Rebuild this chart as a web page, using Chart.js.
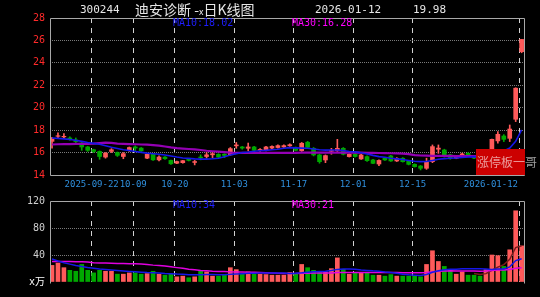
<!DOCTYPE html>
<html>
<head>
<meta charset="utf-8">
<script src="https://cdn.jsdelivr.net/npm/chart.js@4"></script>
<style>
  html, body { margin: 0; padding: 0; background: #000; }
  #wrap { position: relative; width: 540px; height: 297px; overflow: hidden; background: #000; }
  canvas { position: absolute; left: 0; }
  #kline { top: 0; }
  #vol { top: 190px; }
  .txt { position: absolute; white-space: nowrap; line-height: 1; }
  .mono { font-family: "DejaVu Sans Mono", monospace; }
  .cjk { font-family: "Noto Sans CJK SC", sans-serif; }
  #stamp { position: absolute; left: 476px; top: 149px; width: 49px; height: 26px; background: #cc0000; }
</style>
</head>
<body>
<div id="wrap">
  <canvas id="kline" width="540" height="190"></canvas>
  <canvas id="vol" width="540" height="107"></canvas>

  <div class="txt mono" style="left:80px; top:4px; font-size:11px; color:#e6e6e6;">300244</div>
  <div class="txt cjk" style="left:135px; top:2px; font-size:14px; color:#e6e6e6;">迪安诊断 -<span style="font-size:9px">x</span>日K线图</div>
  <div class="txt mono" style="left:315px; top:4px; font-size:11px; color:#e6e6e6;">2026-01-12</div>
  <div class="txt mono" style="left:413px; top:4px; font-size:11px; color:#e6e6e6;">19.98</div>

  <div class="txt mono" style="left:173px; top:18px; font-size:10px; color:#1e1eff;">MA10:18.02</div>
  <div class="txt mono" style="left:292px; top:18px; font-size:10px; color:#ff00ff;">MA30:16.28</div>
  <div class="txt mono" style="left:173px; top:200px; font-size:10px; color:#1e1eff;">MA10:34</div>
  <div class="txt mono" style="left:292px; top:200px; font-size:10px; color:#ff00ff;">MA30:21</div>

  <div id="stamp"></div>
  <div class="txt cjk" style="left:477px; top:156px; font-size:12px; color:rgba(255,255,255,0.6);">涨停板一哥</div>
</div>

<script>
// daily K-line, 80 sessions, 2025-09-11 .. 2026-01-12

const dateTicks  = [7, 14, 21, 31, 41, 51, 61, 79];
const dateLabels = ["2025-09-22", "10-09", "10-20", "11-03", "11-17", "12-01", "12-15", "2026-01-12"];

const opens = [
  17.00, 17.45, 17.40, 17.30, 17.12, 16.85, 16.50, 16.25, 16.10, 15.60,
  16.10, 16.00, 15.65, 16.20, 16.50, 16.40, 15.50, 15.85, 15.35, 15.60,
  15.30, 15.05, 15.10, 15.40, 15.12, 15.60, 15.65, 15.80, 15.85, 15.85,
  15.80, 16.60, 16.50, 16.38, 16.50, 16.18, 16.20, 16.40, 16.45, 16.50,
  16.60, 16.45, 16.17, 16.92, 16.38, 15.79, 15.34, 16.12, 16.17, 16.38,
  15.64, 15.85, 15.43, 15.64, 15.34, 14.98, 15.50, 15.70, 15.25, 15.49,
  15.25, 14.95, 14.80, 14.60, 15.19, 16.30, 16.23, 15.80, 15.49, 15.64,
  15.93, 15.70, 15.50, 15.40, 15.75, 17.04, 17.48, 17.27, 18.97, 25.00
];
const highs = [
  17.35, 17.75, 17.70, 17.40, 17.30, 16.90, 16.55, 16.30, 16.15, 16.00,
  16.35, 16.05, 16.00, 16.50, 16.60, 16.45, 15.90, 15.90, 15.70, 15.65,
  15.32, 15.25, 15.30, 15.45, 15.30, 15.80, 16.00, 16.08, 15.90, 15.90,
  16.45, 16.90, 16.55, 16.85, 16.55, 16.35, 16.55, 16.60, 16.68, 16.70,
  16.78, 16.50, 16.90, 17.00, 16.45, 15.85, 15.79, 16.38, 17.18, 16.45,
  15.90, 15.90, 15.85, 15.70, 15.40, 15.35, 15.55, 15.75, 15.55, 15.55,
  15.30, 15.00, 14.85, 15.50, 16.68, 16.68, 16.30, 15.85, 15.75, 15.95,
  16.00, 15.75, 15.55, 15.80, 17.20, 17.87, 17.60, 18.46, 21.78, 26.09
];
const lows = [
  16.40, 17.30, 17.25, 17.10, 16.90, 16.20, 16.10, 16.00, 15.40, 15.50,
  16.00, 15.65, 15.45, 16.10, 16.15, 16.10, 15.45, 15.30, 15.25, 15.40,
  14.95, 15.00, 15.05, 15.25, 14.90, 15.35, 15.50, 15.55, 15.50, 15.55,
  15.75, 16.38, 16.30, 16.15, 16.10, 16.10, 16.15, 16.35, 16.40, 16.45,
  16.55, 16.15, 16.10, 16.40, 15.70, 15.05, 15.10, 15.85, 16.10, 15.79,
  15.60, 15.60, 15.40, 15.20, 15.00, 14.83, 15.30, 15.20, 15.20, 15.15,
  14.90, 14.70, 14.45, 14.50, 15.10, 15.93, 15.60, 15.40, 15.45, 15.60,
  15.65, 15.45, 15.35, 15.35, 15.70, 16.83, 16.98, 16.98, 18.76, 24.90
];
const closes = [
  17.25, 17.50, 17.45, 17.20, 16.98, 16.50, 16.20, 16.10, 15.65, 15.95,
  16.25, 15.75, 15.90, 16.45, 16.40, 16.15, 15.85, 15.35, 15.60, 15.45,
  15.00, 15.20, 15.28, 15.30, 15.20, 15.55, 15.80, 15.90, 15.60, 15.75,
  16.35, 16.68, 16.40, 16.50, 16.20, 16.28, 16.50, 16.55, 16.62, 16.62,
  16.70, 16.20, 16.83, 16.47, 15.79, 15.19, 15.73, 16.20, 16.38, 15.85,
  15.85, 15.65, 15.79, 15.28, 15.04, 15.30, 15.34, 15.25, 15.49, 15.19,
  14.95, 14.74, 14.60, 15.19, 16.53, 16.40, 15.70, 15.49, 15.70, 15.88,
  15.70, 15.50, 15.40, 15.70, 17.18, 17.63, 17.18, 18.10, 21.74, 26.09
];

const priceMa10 = [
  17.30, 17.27, 17.22, 17.16, 17.10, 17.00, 16.90, 16.82, 16.74, 16.60,
  16.47, 16.36, 16.25, 16.18, 16.10, 16.02, 15.95, 15.90, 15.85, 15.78,
  15.70, 15.60, 15.52, 15.48, 15.44, 15.42, 15.42, 15.45, 15.50, 15.62,
  15.78, 15.90, 16.00, 16.05, 16.12, 16.16, 16.20, 16.25, 16.30, 16.38,
  16.44, 16.42, 16.40, 16.38, 16.32, 16.25, 16.22, 16.23, 16.23, 16.18,
  16.10, 16.06, 15.98, 15.88, 15.75, 15.64, 15.58, 15.50, 15.44, 15.38,
  15.30, 15.22, 15.19, 15.20, 15.30, 15.40, 15.46, 15.49, 15.52, 15.56,
  15.60, 15.64, 15.62, 15.65, 15.82, 15.98, 16.14, 16.40, 17.00, 18.02
];
const priceMa30 = [
  16.72, 16.74, 16.75, 16.76, 16.77, 16.77, 16.78, 16.80, 16.84, 16.88,
  16.86, 16.80, 16.77, 16.75, 16.74, 16.72, 16.70, 16.66, 16.62, 16.54,
  16.46, 16.40, 16.36, 16.32, 16.28, 16.23, 16.16, 16.12, 16.08, 16.04,
  16.00, 15.98, 15.97, 15.96, 15.96, 15.97, 15.98, 15.98, 15.98, 15.98,
  15.98, 15.98, 15.99, 15.99, 16.00, 15.99, 15.99, 15.99, 16.00, 16.00,
  16.00, 16.00, 15.99, 15.98, 15.97, 15.96, 15.95, 15.94, 15.93, 15.90,
  15.86, 15.78, 15.74, 15.72, 15.71, 15.71, 15.70, 15.70, 15.69, 15.69,
  15.68, 15.68, 15.67, 15.67, 15.66, 15.66, 15.70, 15.76, 15.94, 16.28
];

// volume, in units of 10k shares
const volumes = [
  24.6, 28.0, 21.2, 17.3, 15.9, 26.0, 17.3, 13.5, 17.3, 15.9,
  15.9, 11.6, 11.6, 13.5, 13.5, 11.6, 12.5, 15.9, 11.6, 10.1,
  11.6,  7.7,  8.7,  6.3,  7.7, 15.9, 14.9,  8.7,  8.7, 10.1,
  21.2, 18.3, 11.6, 14.9, 11.6, 11.6, 11.0, 10.1, 10.1, 10.1,
  14.0, 12.5, 26.0, 21.2, 17.3, 14.9, 14.9, 19.8, 35.7, 18.8,
  11.6, 13.5, 13.5, 13.5, 10.1, 10.1,  8.7, 11.0,  8.7,  8.7,
   8.7,  8.7,  7.7, 26.0, 46.3, 30.4, 23.1, 17.3, 11.6, 14.9,
  10.1, 10.1,  8.7, 18.3, 40.0, 39.0, 23.1, 47.7, 105.5, 53.5
];
const volMa10 = [
  34.0, 31.0, 28.5, 26.5, 24.5, 23.0, 21.5, 20.3, 19.2, 18.5,
  17.8, 17.0, 16.3, 15.7, 15.2, 14.6, 14.0, 13.6, 13.2, 12.6,
  12.3, 11.7, 11.3, 10.9, 10.6, 10.8, 11.0, 11.0, 10.9, 10.9,
  11.3, 12.0, 12.4, 12.9, 13.1, 13.2, 13.2, 13.3, 13.3, 13.2,
  12.6, 12.8, 13.6, 14.6, 15.3, 15.5, 15.8, 16.9, 18.7, 19.3,
  19.3, 18.9, 17.9, 17.2, 16.5, 16.1, 14.8, 14.0, 13.0, 11.5,
  10.6, 10.1,  9.7, 11.2, 14.5, 16.6, 18.0, 18.8, 19.0, 19.5,
  19.6, 19.7, 19.8, 19.1, 18.5, 19.3, 19.3, 22.4, 31.7, 34.5
];
const volMa30 = [
  30.4, 30.4, 30.3, 30.2, 30.1, 30.0, 29.5, 28.5, 28.0, 28.0,
  27.8, 27.5, 27.3, 27.0, 27.0, 26.5, 25.8, 25.0, 24.6, 23.8,
  22.5, 21.3, 20.2, 19.0, 18.0, 17.0, 16.5, 16.0, 15.7, 15.4,
  15.0, 14.9, 14.7, 14.5, 14.3, 14.0, 13.6, 13.2, 12.8, 12.5,
  12.5, 12.6, 12.8, 13.0, 13.2, 13.3, 13.4, 13.5, 14.0, 14.2,
  14.2, 14.1, 14.1, 14.1, 14.0, 14.0, 13.9, 13.9, 13.9, 13.8,
  13.7, 13.7, 13.7, 14.1, 15.2, 15.8, 16.3, 16.5, 16.4, 16.4,
  16.3, 16.2, 16.1, 16.2, 16.9, 17.6, 17.8, 18.6, 20.4, 21.0
];
// short volume average only shows above the bars at the far right
const volMa5Start = 71;
const volMa5 = [12.5, 11.1, 12.4, 17.4, 22.0, 25.8, 33.6, 51.1, 53.8];

// ---------------------------------------------------------------------------

const UP    = "#ff5a5a";
const DOWN  = "#00a800";
const BLUE  = "#1616e8";
const PURP  = "#9400b4";
const MAGE  = "#e000e0";
const GRID  = "#7a7a7a";
const xMin  = -0.34;
const xMax  = 79.4;
const gridShift = -0.336;   // verticals sit 2px left of the candle centre

const upAt = i => closes[i] >= opens[i];
const barColors = opens.map((o, i) => (upAt(i) ? UP : DOWN));

const xAxis = {
  type: "linear",
  min: xMin,
  max: xMax,
  offset: false,
  afterBuildTicks: axis => { axis.ticks = dateTicks.map(v => ({ value: v + gridShift })); },
  afterFit: axis => { axis.height = 0; },
  ticks: { display: false },
  grid: { offset: false, color: "#d2d2d2", lineWidth: 1, drawTicks: false },
  border: { display: false, dash: [5, 5] },
};

const framePlugin = {
  id: "frame",
  afterDraw(chart, args, opts) {
    const { ctx, chartArea: a } = chart;
    const l = Math.round(a.left) + 0.5, r = Math.round(a.right) + 0.5;
    const t = Math.round(a.top) + 0.5,  b = Math.round(a.bottom) + 0.5;
    ctx.save();
    ctx.strokeStyle = "#a8a8a8";
    ctx.lineWidth = 1;
    ctx.beginPath();
    if (opts.bottom) { ctx.moveTo(l, b); ctx.lineTo(r, b); }
    ctx.moveTo(l, opts.bottom ? b : b + 1); ctx.lineTo(l, t); ctx.lineTo(r, t); ctx.lineTo(r, opts.bottom ? b : b + 1);
    ctx.stroke();
    ctx.restore();
  },
};

const dateLabelPlugin = {
  id: "dateLabels",
  afterDraw(chart) {
    const { ctx, chartArea, scales } = chart;
    ctx.save();
    ctx.font = '9px "DejaVu Sans Mono"';
    ctx.fillStyle = "#2f8fdc";
    ctx.textAlign = "center";
    ctx.textBaseline = "middle";
    dateTicks.forEach((v, k) => {
      const x = scales.x.getPixelForValue(v + gridShift);
      const w = ctx.measureText(dateLabels[k]).width;
      const cx = Math.min(x, chartArea.right - 6 - w / 2);
      ctx.fillText(dateLabels[k], cx, chartArea.bottom + 10);
    });
    ctx.restore();
  },
};

// ---------------------------------------------------------------------------
// Price panel
// ---------------------------------------------------------------------------

new Chart(document.getElementById("kline"), {
  type: "bar",
  data: {
    datasets: [
      {
        type: "line",
        data: priceMa10.map((v, i) => ({ x: i, y: v })),
        borderColor: BLUE,
        borderWidth: 1.6,
        pointRadius: 0,
        order: 0,
      },
      {
        type: "line",
        data: priceMa30.map((v, i) => ({ x: i, y: v })),
        borderColor: PURP,
        borderWidth: 2.2,
        pointRadius: 0,
        order: 0,
      },
      {
        label: "wick",
        data: lows.map((l, i) => ({ x: i, y: [l, highs[i]] })),
        backgroundColor: barColors,
        barThickness: 1,
        grouped: false,
        order: 2,
      },
      {
        label: "body",
        data: opens.map((o, i) => ({ x: i, y: [o, closes[i]] })),
        backgroundColor: barColors,
        barThickness: 4,
        grouped: false,
        order: 1,
      },
    ],
  },
  options: {
    responsive: false,
    animation: false,
    events: [],
    layout: { padding: { left: 0, right: 16, top: 18, bottom: 15 } },
    plugins: { legend: { display: false }, tooltip: { enabled: false }, frame: { bottom: true } },
    scales: {
      x: xAxis,
      y: {
        min: 14,
        max: 28,
        afterFit: axis => { axis.width = 50; },
        ticks: {
          stepSize: 2,
          padding: 5,
          color: "#ff2a2a",
          font: { family: "'DejaVu Sans Mono', monospace", size: 10 },
        },
        grid: {
          drawTicks: false,
          color: ctx => (ctx.tick.value === 14 || ctx.tick.value === 28 ? "rgba(0,0,0,0)" : GRID),
        },
        border: { display: false, dash: [1, 1] },
      },
    },
  },
  plugins: [framePlugin, dateLabelPlugin],
});

// ---------------------------------------------------------------------------
// Volume panel
// ---------------------------------------------------------------------------

new Chart(document.getElementById("vol"), {
  type: "bar",
  data: {
    datasets: [
      {
        type: "line",
        data: volMa10.map((v, i) => ({ x: i, y: v })),
        borderColor: BLUE,
        borderWidth: 1.5,
        pointRadius: 0,
        order: 0,
      },
      {
        type: "line",
        data: volMa30.map((v, i) => ({ x: i, y: v })),
        borderColor: MAGE,
        borderWidth: 1.5,
        pointRadius: 0,
        order: 0,
      },
      {
        type: "line",
        data: volMa5.map((v, k) => ({ x: volMa5Start + k, y: v })),
        borderColor: "#7a1c1c",
        borderWidth: 1.5,
        pointRadius: 0,
        order: 0,
      },
      {
        data: volumes.map((v, i) => ({ x: i, y: v })),
        backgroundColor: barColors,
        barThickness: 4,
        grouped: false,
        order: 1,
      },
    ],
  },
  options: {
    responsive: false,
    animation: false,
    events: [],
    layout: { padding: { left: 0, right: 16, top: 9, bottom: 15 } },
    plugins: { legend: { display: false }, tooltip: { enabled: false }, frame: { bottom: false } },
    scales: {
      x: xAxis,
      y: {
        min: 0,
        max: 120,
        afterFit: axis => { axis.width = 50; },
        ticks: {
          stepSize: 40,
          padding: 5,
          callback: v => (v === 0 ? "x万" : v),
          color: ctx => (ctx.tick.value === 0 ? "#ffffff" : "#cfcfcf"),
          font: { family: "'DejaVu Sans Mono', 'Noto Sans CJK SC', monospace", size: 10 },
        },
        grid: {
          drawTicks: false,
          color: ctx => (ctx.tick.value === 0 || ctx.tick.value === 120 ? "rgba(0,0,0,0)" : GRID),
        },
        border: { display: false, dash: [1, 1] },
      },
    },
  },
  plugins: [framePlugin],
});
</script>
</body>
</html>
